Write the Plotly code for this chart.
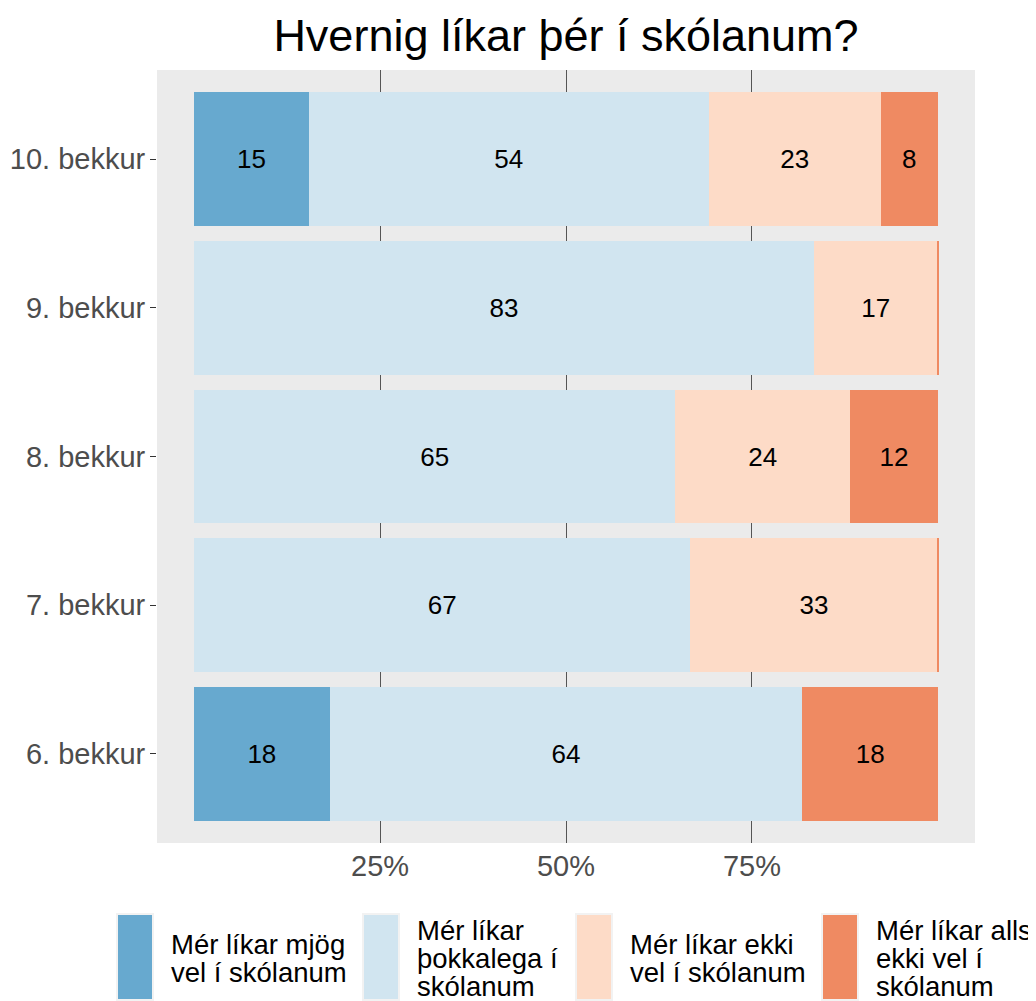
import plotly.graph_objects as go

# ---------------- data ----------------
categories = ["6. bekkur", "7. bekkur", "8. bekkur", "9. bekkur", "10. bekkur"]
series_names = [
    "Mér líkar mjög vel í skólanum",
    "Mér líkar þokkalega í skólanum",
    "Mér líkar ekki vel í skólanum",
    "Mér líkar alls ekki vel í skólanum",
]
mjog_vel = [18.2, 0.0, 0.0, 0.0, 15.4]
thokkalega = [63.6, 66.7, 64.7, 83.3, 53.8]
ekki_vel = [0.0, 33.3, 23.5, 16.7, 23.1]
alls_ekki = [18.2, 0.2, 11.8, 0.2, 7.7]
legend_lines = [
    ["Mér líkar mjög", "vel í skólanum"],
    ["Mér líkar", "þokkalega í", "skólanum"],
    ["Mér líkar ekki", "vel í skólanum"],
    ["Mér líkar alls", "ekki vel í", "skólanum"],
]
x_tickvals = [25, 50, 75]
x_ticktext = ["25%", "50%", "75%"]
title_text = "Hvernig líkar þér í skólanum?"

# ---------------- styling ----------------
colors = ["#67A9CF", "#D1E5F0", "#FDDBC7", "#EF8A62"]
FONT = "Liberation Sans, Arial, sans-serif"
OFF = 8  # page body margin
W, H = 1036 - OFF, 1001 - OFF
L, R, T, B = 157 - OFF, 975 - OFF, 70 - OFF, 843 - OFF  # panel pixel box

fig = go.Figure()
for name, vals, col in zip(series_names, [mjog_vel, thokkalega, ekki_vel, alls_ekki], colors):
    labels = [f"{v:.0f}" if v >= 1 else "" for v in vals]
    fig.add_trace(go.Bar(
        y=categories, x=vals, name=name, orientation="h",
        marker=dict(color=col, line=dict(width=0)),
        text=labels, textposition="inside", insidetextanchor="middle",
        textangle=0, constraintext="none",
        insidetextfont=dict(family=FONT, size=26, color="black"),
        width=0.9, showlegend=False,
    ))

def px_x(p):
    return (p - OFF - L) / (R - L)

def px_y(p):
    return (B - (p - OFF)) / (B - T)

shapes = []
annotations = []
key_lefts = [118, 364, 577, 823]
key_w, key_top, key_bot = 34, 915, 999
line_gap = 28
center_y = 958
for i, left in enumerate(key_lefts):
    shapes.append(dict(
        type="rect", xref="paper", yref="paper",
        x0=px_x(left - 2), x1=px_x(left + key_w + 2),
        y0=px_y(key_bot + 2), y1=px_y(key_top - 2),
        fillcolor="#F2F2F2", line=dict(width=0), layer="above",
    ))
    shapes.append(dict(
        type="rect", xref="paper", yref="paper",
        x0=px_x(left), x1=px_x(left + key_w),
        y0=px_y(key_bot), y1=px_y(key_top),
        fillcolor=colors[i], line=dict(width=0), layer="above",
    ))
    lines = legend_lines[i]
    n = len(lines)
    for j, ln in enumerate(lines):
        yc = center_y + (j - (n - 1) / 2) * line_gap
        annotations.append(dict(
            text=ln, xref="paper", yref="paper",
            x=px_x(left + key_w + 17), y=px_y(yc),
            xanchor="left", yanchor="middle", showarrow=False,
            font=dict(family=FONT, size=27.5, color="black"),
        ))

fig.update_layout(
    width=W, height=H,
    margin=dict(l=L, r=W - R, t=T, b=H - B, pad=0, autoexpand=False),
    paper_bgcolor="white", plot_bgcolor="#EBEBEB",
    barmode="stack", bargap=0.1,
    font=dict(family=FONT),
    title=dict(
        text=title_text, x=(L + R) / 2 / W, xanchor="center",
        y=1 - (35 - OFF) / H, yanchor="middle", yref="container",
        font=dict(family=FONT, size=45, color="black"),
    ),
    xaxis=dict(
        range=[-5, 105], tickvals=x_tickvals, ticktext=x_ticktext,
        showgrid=True, gridcolor="#555555", gridwidth=1,
        zeroline=False, showline=False, ticks="", ticklabelstandoff=3,
        tickfont=dict(family=FONT, size=29, color="#4D4D4D"),
        fixedrange=True, automargin=False,
    ),
    yaxis=dict(
        categoryorder="array", categoryarray=categories,
        range=[-0.6, 4.6], showgrid=False, zeroline=False, showline=False,
        ticks="outside", ticklen=6, tickwidth=1.2, tickcolor="#333333",
        ticklabelstandoff=-1,
        tickfont=dict(family=FONT, size=29, color="#4D4D4D"),
        fixedrange=True, automargin=False,
    ),
    shapes=shapes, annotations=annotations,
)

fig.write_html("out.html")
